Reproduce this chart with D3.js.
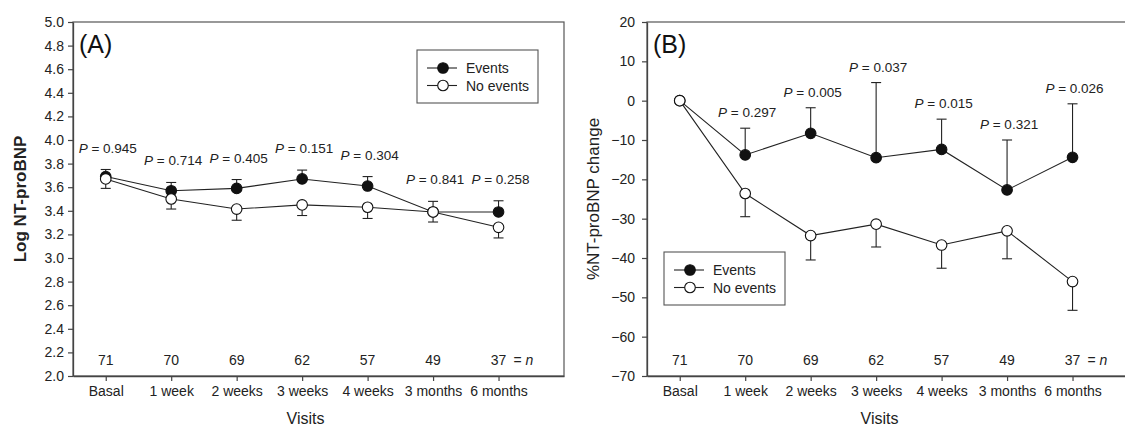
<!DOCTYPE html>
<html><head><meta charset="utf-8">
<script src="https://cdn.jsdelivr.net/npm/d3@7/dist/d3.min.js"></script>
<style>
html,body{margin:0;padding:0;background:#fff;}
svg{display:block;font-family:"Liberation Sans",Arial,sans-serif;}
</style></head>
<body>
<svg id="chart" width="1125" height="426"></svg>
<script>
// ---------- data ----------
const visits = ["Basal","1 week","2 weeks","3 weeks","4 weeks","3 months","6 months"];
const nCounts = [71,70,69,62,57,49,37];

// Panel A: Log NT-proBNP
const logEvents      = [3.69, 3.57, 3.59, 3.67, 3.61, 3.39, 3.39];
const logEventsErr   = [0.06, 0.07, 0.075, 0.075, 0.08, 0.09, 0.095];
const logNoEvents    = [3.67, 3.50, 3.415, 3.45, 3.43, 3.39, 3.26];
const logNoEventsErr = [0.08, 0.085, 0.095, 0.09, 0.095, 0.085, 0.09];
const pValuesA = ["0.945","0.714","0.405","0.151","0.304","0.841","0.258"];
const yTicksA = d3.range(2.0, 5.001, 0.2);

// Panel B: % NT-proBNP change
const pctEvents      = [0, -13.8, -8.3, -14.5, -12.4, -22.7, -14.4];
const pctEventsErr   = [0, 6.8, 6.5, 19.1, 7.7, 12.7, 13.6];
const pctNoEvents    = [0, -23.6, -34.3, -31.4, -36.7, -33.1, -46.0];
const pctNoEventsErr = [0, 5.9, 6.2, 5.8, 5.9, 7.1, 7.3];
const pValuesB = [null,"0.297","0.005","0.037","0.015","0.321","0.026"];
const yTicksB = d3.range(-70, 21, 10);

const seriesNames = ["Events","No events"];

// ---------- drawing ----------
const svg = d3.select("#chart");
const AXIS = "#444";

function panel(cfg){
  const g = svg.append("g");
  const x = d3.scaleLinear().domain([-0.5, visits.length]).range([cfg.left, cfg.left + 491]);
  const y = d3.scaleLinear().domain(cfg.yDomain).range([376, 22]);

  // frame
  g.append("rect").attr("x", x.range()[0]).attr("y", y.range()[1])
    .attr("width", x.range()[1]-x.range()[0]).attr("height", y.range()[0]-y.range()[1])
    .attr("fill","none").attr("stroke","#555").attr("stroke-width",1.2);

  const ya = g.append("g").attr("transform",`translate(${x.range()[0]},0)`)
    .call(d3.axisLeft(y).tickValues(cfg.yTicks).tickFormat(cfg.yFormat).tickSize(5).tickSizeOuter(0).tickPadding(cfg.yPad));
  const xa = g.append("g").attr("transform",`translate(0,${y.range()[0]})`)
    .call(d3.axisBottom(x).tickValues(d3.range(visits.length)).tickFormat(i=>visits[i]).tickSize(5).tickSizeOuter(0).tickPadding(5));
  [ya,xa].forEach(a=>{
    a.select(".domain").attr("stroke",AXIS).attr("stroke-width",1.3);
    a.selectAll(".tick line").attr("stroke",AXIS).attr("stroke-width",1.2);
    a.selectAll(".tick text").attr("fill","#222").style("font-size","14px").style("font-family","Liberation Sans, Arial, sans-serif");
  });

  // n counts
  g.selectAll("text.n").data(nCounts).join("text").attr("class","n")
    .attr("x",(d,i)=>x(i)).attr("y", y.range()[0]-11).attr("text-anchor","middle")
    .attr("fill","#222").style("font-size","14px").text(d=>d);
  const nt = g.append("text").attr("x", x(visits.length-1)+15).attr("y", y.range()[0]-11)
    .attr("fill","#222").style("font-size","14px");
  nt.append("tspan").text("= ");
  nt.append("tspan").attr("font-style","italic").text("n");

  // series
  const series = [
    {vals: cfg.ev, err: cfg.evErr, dir: 1, fill: "#111"},
    {vals: cfg.ne, err: cfg.neErr, dir: -1, fill: "#fff"}
  ];
  series.forEach(s=>{
    const pts = s.vals.map((v,i)=>({i, v, e: s.err[i]}));
    const eb = g.append("g");
    pts.filter(p=>p.e>0).forEach(p=>{
      const yEnd = y(p.v + s.dir*p.e);
      eb.append("line").attr("x1",x(p.i)).attr("x2",x(p.i)).attr("y1",y(p.v)).attr("y2",yEnd)
        .attr("stroke","#222").attr("stroke-width",1.1);
      eb.append("line").attr("x1",x(p.i)-5).attr("x2",x(p.i)+5).attr("y1",yEnd).attr("y2",yEnd)
        .attr("stroke","#222").attr("stroke-width",1.1);
    });
  });
  series.forEach(s=>{
    const pts = s.vals.map((v,i)=>({i, v}));
    g.append("path").datum(pts)
      .attr("d", d3.line().x(p=>x(p.i)).y(p=>y(p.v)))
      .attr("fill","none").attr("stroke","#222").attr("stroke-width",1.1);
    g.selectAll(null).data(pts).join("circle")
      .attr("cx",p=>x(p.i)).attr("cy",p=>y(p.v)).attr("r",5.3)
      .attr("fill",s.fill).attr("stroke","#111").attr("stroke-width",1.1);
  });

  // P labels
  cfg.pv.forEach((p,i)=>{
    if(!p) return;
    const top = y(cfg.ev[i] + cfg.evErr[i]);
    const t = g.append("text").attr("x",x(i)+2).attr("y",top - cfg.pGap)
      .attr("text-anchor","middle").attr("fill","#222").style("font-size","13.5px");
    t.append("tspan").attr("font-style","italic").text("P");
    t.append("tspan").text(" = " + p);
  });

  // panel letter
  g.append("text").attr("x", x.range()[0]+6).attr("y", 53)
    .attr("fill","#111").style("font-size","25px").text(cfg.letter);

  // axis titles
  g.append("text").attr("transform",`translate(${cfg.yTitleX},${(y.range()[0]+y.range()[1])/2}) rotate(-90)`)
    .attr("text-anchor","middle").attr("fill","#222").style("font-size","17px")
    .attr("font-weight",cfg.yTitleWeight).text(cfg.yTitle);
  g.append("text").attr("x",(x.range()[0]+x.range()[1])/2 - 13).attr("y",424)
    .attr("text-anchor","middle").attr("fill","#222").style("font-size","16px").text("Visits");

  // legend
  const L = cfg.legend;
  const lg = g.append("g");
  lg.append("rect").attr("x",L.x).attr("y",L.y).attr("width",121).attr("height",53)
    .attr("fill","#fff").attr("stroke","#555").attr("stroke-width",1.1);
  seriesNames.forEach((nm,k)=>{
    const cy = L.y + 18 + k*17.5;
    lg.append("line").attr("x1",L.x+10).attr("x2",L.x+40).attr("y1",cy).attr("y2",cy)
      .attr("stroke","#222").attr("stroke-width",1.1);
    lg.append("circle").attr("cx",L.x+26).attr("cy",cy).attr("r",5.3)
      .attr("fill",series[k].fill).attr("stroke","#111").attr("stroke-width",1.1);
    lg.append("text").attr("x",L.x+49).attr("y",cy+5).attr("fill","#222")
      .style("font-size","14px").text(nm);
  });
}

panel({left:73, yDomain:[2,5], yTicks:yTicksA, yFormat:d3.format(".1f"), yPad:4,
  ev:logEvents, evErr:logEventsErr, ne:logNoEvents, neErr:logNoEventsErr,
  pv:pValuesA, pGap:17, letter:"(A)", yTitle:"Log NT-proBNP", yTitleX:26, yTitleWeight:"bold",
  legend:{x:417, y:50}});
panel({left:647, yDomain:[-70,20], yTicks:yTicksB, yFormat:d3.format("d"), yPad:7,
  ev:pctEvents, evErr:pctEventsErr, ne:pctNoEvents, neErr:pctNoEventsErr,
  pv:pValuesB, pGap:11, letter:"(B)", yTitle:"%NT-proBNP change", yTitleX:599, yTitleWeight:"normal",
  legend:{x:664, y:252}});
</script>
</body></html>
